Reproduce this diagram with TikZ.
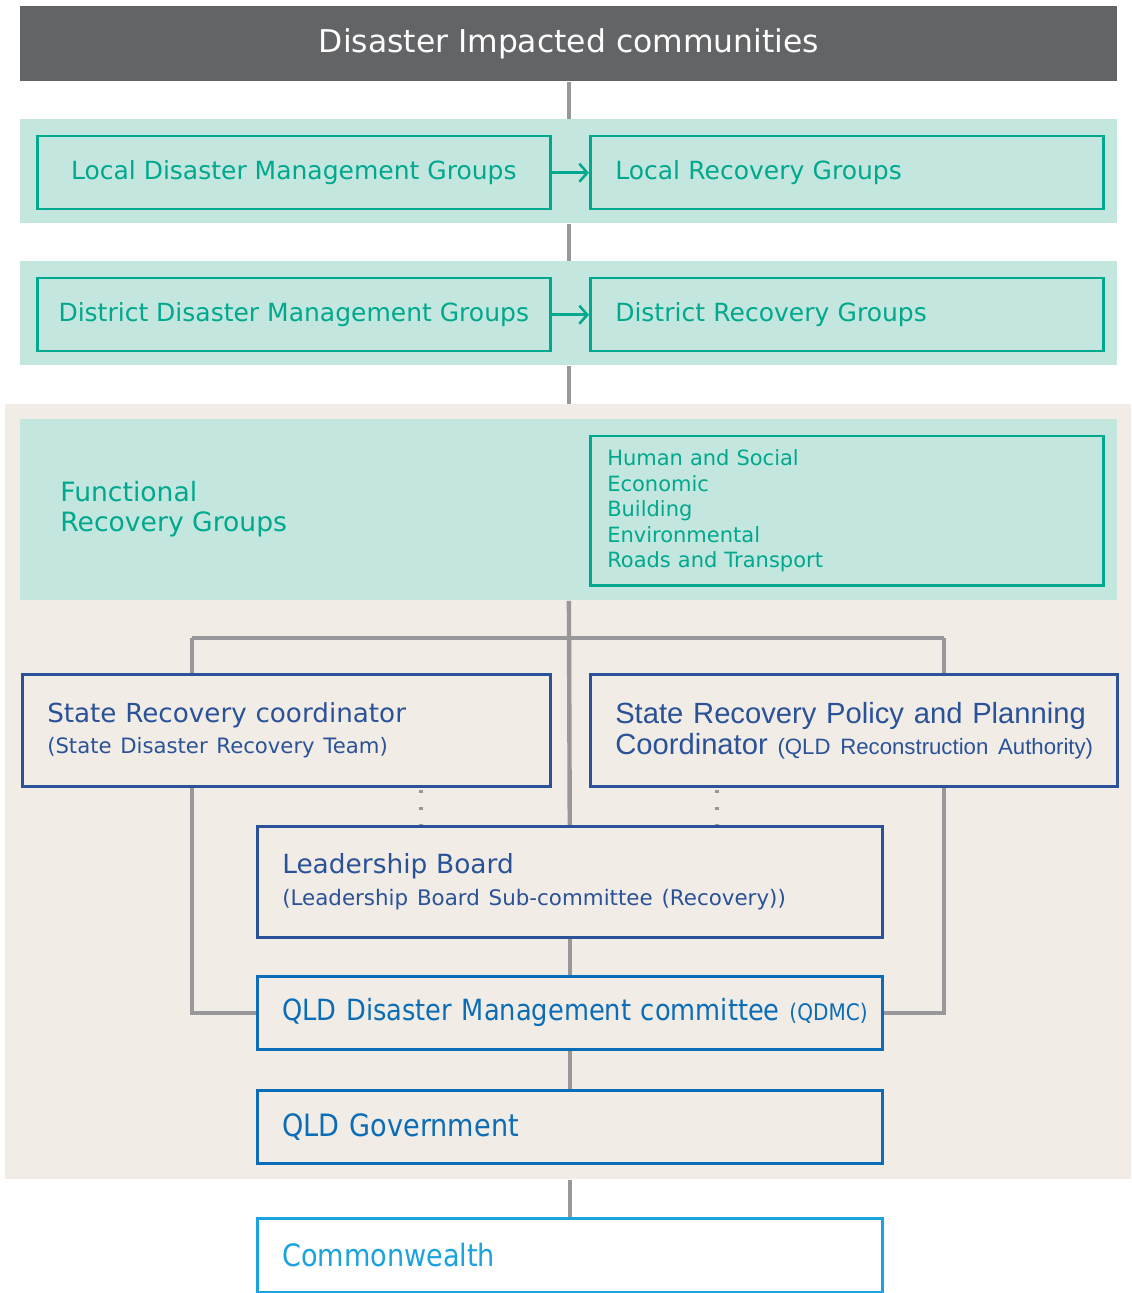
\documentclass[tikz,border=0pt]{standalone}
\usepackage{fontspec}
\setmainfont{DejaVu Sans}
\newfontfamily\arialfont{Liberation Sans}
\newfontfamily\narrowfont[FakeStretch=0.88]{DejaVu Sans}
\usetikzlibrary{arrows.meta}
\usepackage{xcolor}
\definecolor{hdrgray}{HTML}{636466}
\definecolor{linegray}{HTML}{98989A}
\definecolor{tealband}{HTML}{C3E6DE}
\definecolor{tealline}{HTML}{00A88E}
\definecolor{beige}{HTML}{F1ECE5}
\definecolor{darkblue}{HTML}{2A5298}
\definecolor{midblue}{HTML}{0B6DB7}
\definecolor{skyblue}{HTML}{1AA3DE}
\newcommand{\fsz}[2]{\fontsize{#1}{#2}\selectfont}
\pgfdeclarelayer{bg}
\pgfdeclarelayer{lines}
\pgfsetlayers{bg,lines,main}

\tikzset{
  band/.style={fill=tealband, inner sep=0, minimum width=548.5pt, anchor=north west},
  tealbox/.style={draw=tealline, line width=1.25pt, fill=tealband, text=tealline,
    inner ysep=0, minimum height=36.5pt, anchor=north west},
  bluebox/.style={draw=darkblue, line width=1.25pt, fill=beige, text=darkblue,
    inner xsep=12.5pt, inner ysep=0, anchor=north west, align=left, text width=#1},
  link/.style={draw=linegray, line width=2.2pt},
  dotline/.style={draw=linegray, line width=1.8pt, dash pattern=on 1.8pt off 6.7pt},
  tealarrow/.style={draw=tealline, line width=1.25pt, -{Straight Barb[length=4pt,width=9pt]}}
}

\begin{document}
\begin{tikzpicture}[x=0.5pt,y=-0.5pt]
\useasboundingbox (0,0) rectangle (1131,1293);

% backgrounds
\begin{pgfonlayer}{bg}
\node[fill=beige, inner sep=0, minimum width=563pt, minimum height=387.5pt, anchor=north west] (state) at (5,404) {};
\node[band, minimum height=52pt] (band1) at (20,119) {};
\node[band, minimum height=52pt] (band2) at (20,261) {};
\node[band, minimum height=90.5pt] (band3) at (20,419) {};
\node[fill=hdrgray, text=white, inner sep=0, minimum width=548.5pt, minimum height=37.5pt, anchor=north west,
  font=\fsz{15.7}{18}] (hdr) at (20,6) {Disaster Impacted communities};
\end{pgfonlayer}

% local and district
\node[tealbox, minimum width=256.5pt, inner xsep=0, font=\fsz{12.5}{15}] (ldmg) at (36,135) {Local Disaster Management Groups};
\node[tealbox, inner xsep=12.5pt, text width=231.5pt, align=left, font=\fsz{12.5}{15}] (lrg) at (589,135) {Local Recovery Groups};
\node[tealbox, minimum width=256.5pt, inner xsep=0, font=\fsz{12.5}{15}] (ddmg) at (36,277) {District Disaster Management Groups};
\node[tealbox, inner xsep=12.5pt, text width=231.5pt, align=left, font=\fsz{12.5}{15}] (drg) at (589,277) {District Recovery Groups};
\draw[tealarrow] (ldmg.east) -- (lrg.west);
\draw[tealarrow] (ddmg.east) -- (drg.west);

% functional groups
\node[text=tealline, anchor=west, align=left, inner sep=0, font=\fsz{13.3}{15}] (frg) at (60,509) {Functional\\Recovery Groups};
\node[tealbox, minimum height=74.5pt, inner xsep=8.5pt, text width=239.5pt, align=left, font=\fsz{10.5}{12.75}] (fgroups) at (589,435)
  {Human and Social\\Economic\\Building\\Environmental\\Roads and Transport};

% state level
\node[bluebox=239pt, minimum height=56pt, font=\fsz{13.1}{15.5}] (src) at (21,673)
  {State Recovery coordinator\\\fsz{10.6}{15.5}(State Disaster Recovery Team)\\[-3pt]};
\node[bluebox=238.5pt, minimum height=56pt, font=\arialfont\fsz{14.6}{15.5}] (srppc) at (589,673)
  {\mbox{State Recovery Policy and Planning}\\\mbox{Coordinator {\fsz{11.1}{15.5}(QLD Reconstruction Authority)}}\\[-2pt]};
\node[bluebox=287.5pt, minimum height=55.5pt, font=\fsz{13.2}{16}] (lb) at (256,825)
  {Leadership Board\\\fsz{10.7}{16}(Leadership Board Sub-committee (Recovery))\\[-4pt]};
\node[bluebox=287.5pt, draw=midblue, text=midblue, minimum height=36.5pt, font=\narrowfont\fsz{14.6}{17}] (qdmc) at (256,975)
  {\mbox{QLD Disaster Management committee {\fsz{11.4}{17}(QDMC)}}};
\node[bluebox=287.5pt, draw=midblue, text=midblue, minimum height=36.5pt, font=\narrowfont\fsz{15.4}{17}] (gov) at (256,1089)
  {QLD Government};
\node[bluebox=287.5pt, draw=skyblue, text=skyblue, fill=white, minimum height=37pt, font=\narrowfont\fsz{15.4}{17}] (comm) at (256,1217)
  {Commonwealth};

% gray links
\begin{pgfonlayer}{lines}
\draw[link] (hdr.south) -- (band1.north -| hdr.south);
\draw[link] (band1.south -| hdr.south) -- (band2.north -| hdr.south);
\draw[link] (band2.south -| hdr.south) -- (state.north -| hdr.south);
\draw[link] (band3.south -| hdr.south) -- (lb.north);
\coordinate (barL) at (192,638);
\coordinate (barR) at (944,638);
\draw[link] (barL) -- (barR);
\draw[link] (barL) -- (barL |- qdmc.west) -- (qdmc.west);
\draw[link] (barR) -- (barR |- qdmc.east) -- (qdmc.east);
\draw[link] (lb.south) -- (qdmc.north);
\draw[link] (qdmc.south) -- (gov.north);
\draw[link] (state.south -| comm.north) -- (comm.north);
\draw[dotline] (src.south -| 421,0) ++(0,2) -- (lb.north -| 421,0);
\draw[dotline] (srppc.south -| 717,0) ++(0,2) -- (lb.north -| 717,0);
\end{pgfonlayer}
\end{tikzpicture}
\end{document}
